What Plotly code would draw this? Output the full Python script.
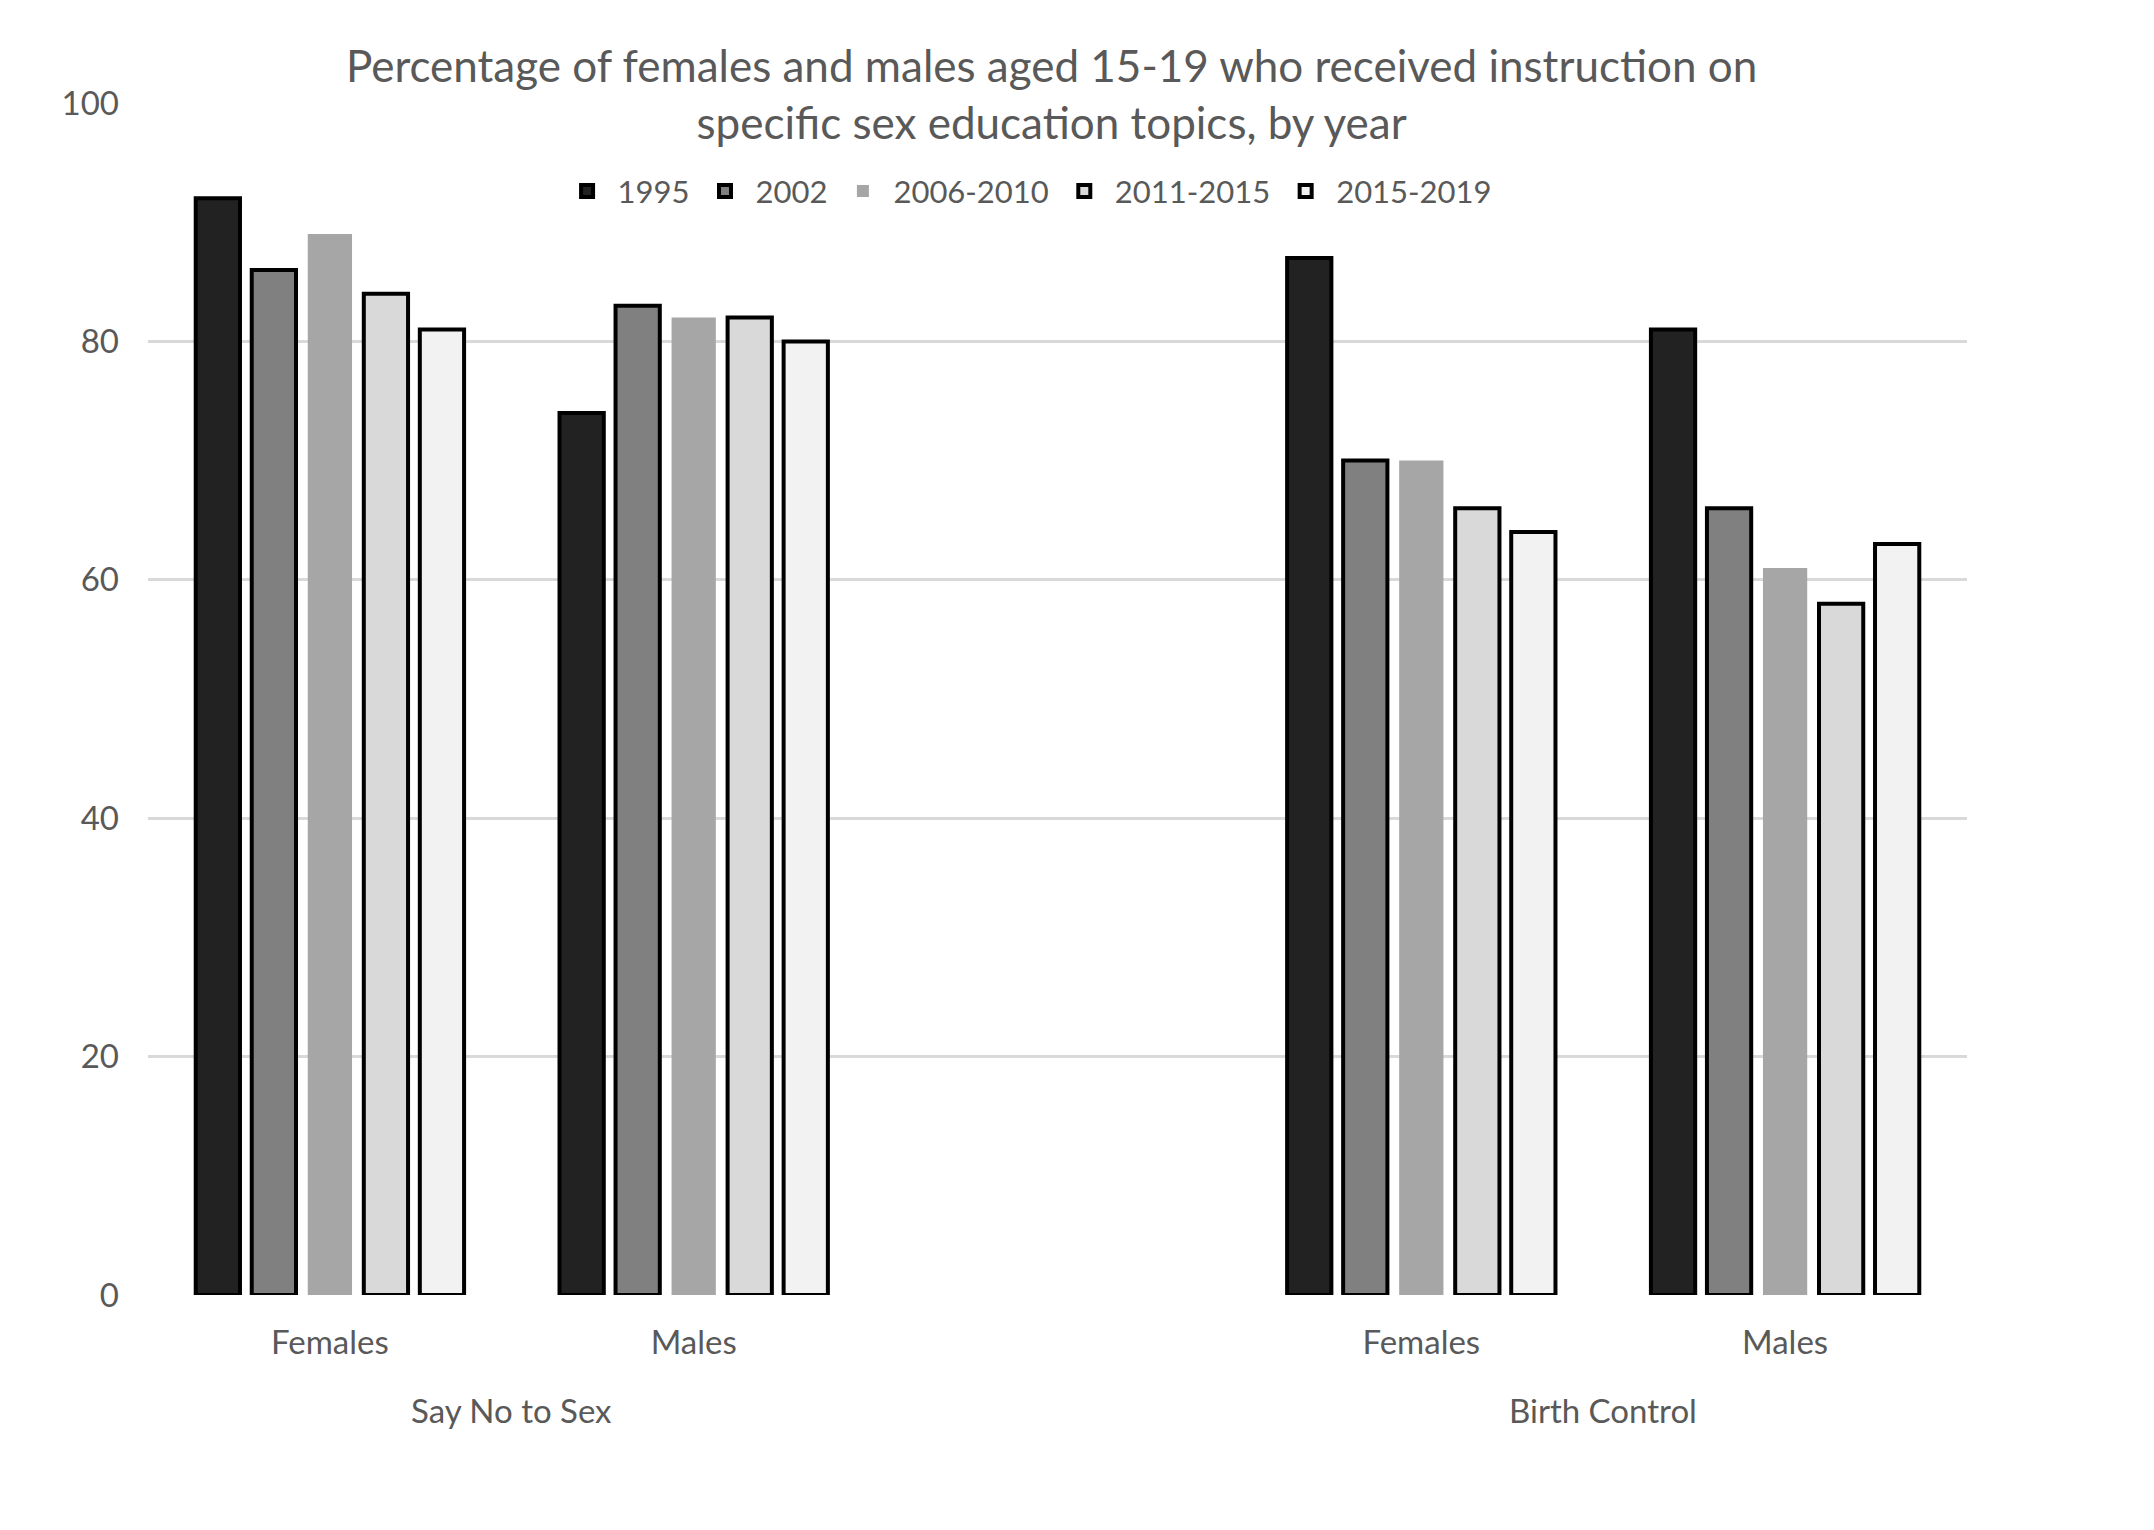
import plotly.graph_objects as go

# ---- data ----
topics = ["Say No to Sex", "Birth Control"]
sexes = ["Females", "Males"]
series_names = ["1995", "2002", "2006-2010", "2011-2015", "2015-2019"]
# order of values: Say No Females, Say No Males, Birth Control Females, Birth Control Males
v1995 = [92, 74, 87, 81]
v2002 = [86, 83, 70, 66]
v2006_2010 = [89, 82, 70, 61]
v2011_2015 = [84, 82, 66, 58]
v2015_2019 = [81, 80, 64, 63]
y_ticks = [0, 20, 40, 60, 80, 100]

series_values = [v1995, v2002, v2006_2010, v2011_2015, v2015_2019]
fills = ["#222222", "#808080", "#a6a6a6", "#d9d9d9", "#f2f2f2"]
line_widths = [4, 4, 0, 4, 4]

# categories incl. an empty spacer between the two topics
cat_ids = [f"{topics[0]}|{sexes[0]}", f"{topics[0]}|{sexes[1]}", "gap",
           f"{topics[1]}|{sexes[0]}", f"{topics[1]}|{sexes[1]}"]
cat_text = [sexes[0], sexes[1], "", sexes[0], sexes[1]]

FONT = "Lato"
GREY = "#595959"
AX = 33

fig = go.Figure()
for name, vals, col, lw in zip(series_names, series_values, fills, line_widths):
    yv = [vals[0], vals[1], None, vals[2], vals[3]]
    fig.add_trace(go.Bar(
        x=cat_ids, y=yv, name=name,
        marker=dict(color=col, line=dict(color="#000000" if lw else col, width=lw)),
    ))

fig.update_layout(
    width=2154, height=1530,
    paper_bgcolor="white", plot_bgcolor="white",
    margin=dict(l=140, r=195, t=95, b=243),
    barmode="group", bargap=0.23, bargroupgap=0.21,
    font=dict(family=FONT, color=GREY, size=31),
    title=dict(
        text="Percentage of females and males aged 15-19 who received instruction on<br>specific sex education topics, by year",
        font=dict(family=FONT, size=44, color=GREY),
        x=0.4845, xref="container", xanchor="center",
        y=1 - 74 / 1530, yref="container", yanchor="middle",
    ),
    legend=dict(
        orientation="h", x=0.483, xanchor="center", y=0.9258, yanchor="middle",
        font=dict(family=FONT, size=31, color=GREY),
        itemwidth=51,
        bgcolor="rgba(0,0,0,0)",
    ),
    showlegend=True,
)

fig.update_xaxes(
    type="category", categoryorder="array", categoryarray=cat_ids,
    tickvals=cat_ids, ticktext=cat_text,
    showgrid=False, showline=False, zeroline=False, ticks="",
    ticklabelstandoff=25,
    tickfont=dict(family=FONT, size=AX, color=GREY),
)
fig.update_yaxes(
    range=[0, 100], tickvals=y_ticks,
    showgrid=True, gridcolor="#d9d9d9", gridwidth=3,
    zeroline=True, zerolinecolor="white", zerolinewidth=4,
    showline=False, ticks="", ticklabelstandoff=28,
    tickfont=dict(family=FONT, size=AX, color=GREY),
)

# group labels under the subcategory labels, centred on each topic's categories
for topic, xc in [(topics[0], 0.5), (topics[1], 3.5)]:
    fig.add_annotation(
        text=topic, x=xc, xref="x", y=-0.0963, yref="paper",
        xanchor="center", yanchor="middle", showarrow=False,
        font=dict(family=FONT, size=AX, color=GREY),
    )

fig.write_html("out.html")
